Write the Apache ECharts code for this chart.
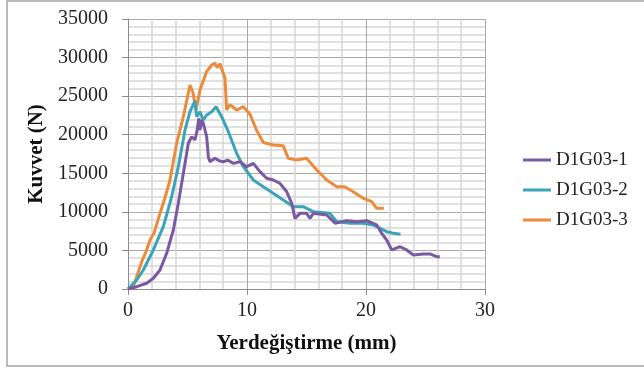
<!DOCTYPE html>
<html>
<head>
<meta charset="utf-8">
<script src="https://cdn.jsdelivr.net/npm/echarts@6/dist/echarts.min.js"></script>
<style>
  html, body { margin: 0; padding: 0; background: #fff; }
  #chart { width: 644px; height: 369px; }
</style>
</head>
<body>
<div id="chart"></div>
<script>
// series names
const names = ["D1G03-1", "D1G03-2", "D1G03-3"];

// displacement (mm), force (N) pairs
const d1 = [
  [0, 0], [0.73, 300], [1.57, 740], [2.13, 1390], [2.69, 2460], [3.25, 4630],
  [3.81, 7650], [4.23, 11110], [4.65, 15000], [5.07, 18890], [5.35, 19740],
  [5.63, 19310], [5.8, 20500], [5.95, 22100], [6.05, 20610], [6.2, 21900],
  [6.33, 21480], [6.47, 20610], [6.61, 19740], [6.75, 17150], [6.89, 16500],
  [7.3, 16940], [7.7, 16600], [8.01, 16500], [8.4, 16700], [8.85, 16290],
  [9.41, 16500], [9.97, 15850], [10.53, 16290], [11.09, 15210], [11.65, 14350],
  [12.21, 14130], [12.77, 13700], [13.34, 12600], [13.76, 11110], [14.03, 9160],
  [14.45, 9810], [15.0, 9810], [15.29, 9160], [15.57, 9810], [16.2, 9700],
  [16.7, 9590], [17.4, 8520], [18.37, 8860], [19.22, 8720], [20.06, 8860],
  [20.9, 8300], [21.32, 7220], [21.74, 6350], [22.16, 5060], [22.86, 5480],
  [23.42, 5060], [23.98, 4410], [24.8, 4540], [25.38, 4540], [25.94, 4190],
  [26.2, 4190]
];

const d2 = [
  [0, 0], [0.73, 1170], [1.29, 2460], [2.13, 5060], [2.97, 8080], [3.67, 11960],
  [4.23, 15850], [4.79, 20610], [5.21, 22980], [5.63, 24400], [5.77, 22340],
  [6.05, 22980], [6.33, 21910], [6.61, 22560], [7.03, 22980], [7.4, 23630],
  [7.87, 22340], [8.43, 20390], [9.13, 17590], [9.7, 15850], [10.53, 14130],
  [11.37, 13260], [12.2, 12400], [13.05, 11540], [13.9, 10670], [14.73, 10670],
  [15.57, 10020], [16.97, 9810], [17.54, 8720], [18.66, 8520], [19.77, 8520],
  [20.6, 8300], [21.18, 7870], [21.73, 7430], [22.3, 7220], [22.9, 7100]
];

const d3 = [
  [0, 0], [0.45, 300], [1.15, 3540], [1.5, 4800], [1.85, 6350], [2.2, 7300],
  [2.69, 9810], [3.1, 11800], [3.53, 14130], [4.09, 18890], [4.65, 22340],
  [5.21, 26440], [5.45, 25500], [5.71, 23200], [6.05, 25800], [6.6, 28170],
  [7.03, 29040], [7.3, 29300], [7.5, 28700], [7.73, 29200], [8.15, 27310],
  [8.29, 23200], [8.57, 23900], [9.13, 23200], [9.7, 23630], [10.25, 22660],
  [10.8, 20600], [11.37, 19000], [12.2, 18670], [13.05, 18560], [13.47, 16940],
  [14.18, 16720], [15.0, 16940], [15.86, 15430], [16.7, 14130], [17.54, 13260],
  [18.2, 13260], [18.93, 12610], [19.77, 11750], [20.48, 11320], [20.9, 10460],
  [21.5, 10460]
];

const colors = ["#7a58a2", "#3aa4b9", "#ec8b3a"];

const chart = echarts.init(document.getElementById("chart"));
const serif = "Liberation Serif";

chart.setOption({
  animation: false,
  backgroundColor: "#fff",
  graphic: [{
    type: "rect",
    shape: { x: 7, y: 1, width: 700, height: 365 },
    style: { fill: "none", stroke: "#a6a6a6", lineWidth: 1.5 }
  }],
  grid: { left: 128, right: 159, top: 19, bottom: 80 },
  legend: {
    orient: "vertical",
    left: 518,
    top: 145,
    icon: "rect",
    itemWidth: 28,
    itemHeight: 3,
    itemGap: 10,
    textStyle: { fontFamily: serif, fontSize: 19, color: "#222", lineHeight: 20 },
    data: names
  },
  xAxis: {
    type: "value",
    min: 0,
    max: 30,
    interval: 10,
    name: "Yerdeğiştirme (mm)",
    nameLocation: "middle",
    nameGap: 44,
    nameTextStyle: { fontFamily: serif, fontSize: 21, fontWeight: "bold", color: "#111" },
    axisLine: { show: true, lineStyle: { color: "#8c8c8c" } },
    axisTick: { show: true, inside: false, length: 6, lineStyle: { color: "#8c8c8c" } },
    axisLabel: { fontFamily: serif, fontSize: 20, color: "#222", margin: 12 },
    splitLine: { show: true, lineStyle: { color: "#a8a8a8" } },
    minorTick: { show: false, splitNumber: 5 },
    minorSplitLine: { show: true, lineStyle: { color: "#d6d6d6", width: 1.5 } }
  },
  yAxis: {
    type: "value",
    min: 0,
    max: 35000,
    interval: 5000,
    name: "Kuvvet (N)",
    nameLocation: "middle",
    nameGap: 75,
    nameRotate: 90,
    nameTextStyle: { fontFamily: serif, fontSize: 21, fontWeight: "bold", color: "#111" },
    axisLine: { show: true, lineStyle: { color: "#8c8c8c" } },
    axisTick: { show: true, inside: false, length: 6, lineStyle: { color: "#8c8c8c" } },
    axisLabel: { fontFamily: serif, fontSize: 20, color: "#222", margin: 20, formatter: function (v) { return String(v); } },
    splitLine: { show: true, lineStyle: { color: "#a8a8a8" } },
    minorTick: { show: false, splitNumber: 5 },
    minorSplitLine: { show: true, lineStyle: { color: "#d6d6d6", width: 1.5 } }
  },
  series: [d1, d2, d3].map(function (d, i) {
    return {
      name: names[i],
      type: "line",
      data: d,
      showSymbol: false,
      symbol: "none",
      color: colors[i],
      lineStyle: { width: 3, color: colors[i] },
      z: 3 - i
    };
  })
});
</script>
</body>
</html>
